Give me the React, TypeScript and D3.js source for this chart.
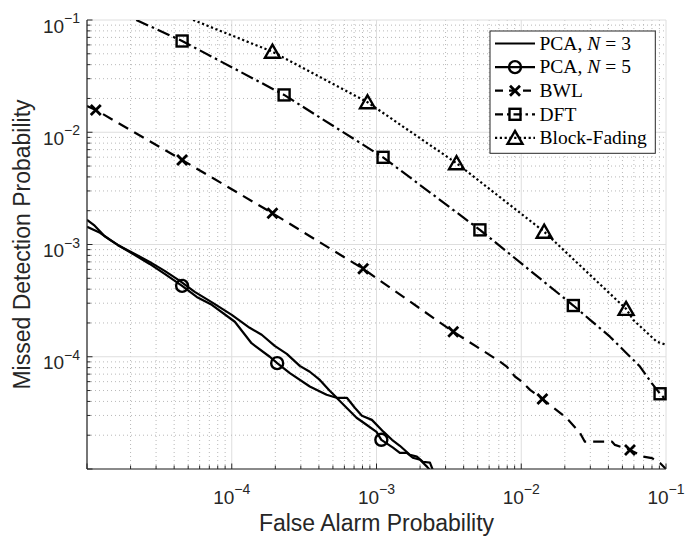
import * as d3 from "d3";

// tick labels (decades shown)
const xTickValues = [1e-4, 1e-3, 1e-2, 1e-1];
const yTickValues = [1e-4, 1e-3, 1e-2, 1e-1];

// [false alarm, missed detection]
const pcaN3: [number, number][] = [
  [1.0e-5, 1.44e-3], [1.23e-5, 1.27e-3], [1.44e-5, 1.10e-3], [1.63e-5, 9.91e-4],
  [2.14e-5, 8.24e-4], [2.71e-5, 7.0e-4], [3.44e-5, 5.82e-4], [4.38e-5, 4.74e-4],
  [5.55e-5, 3.78e-4], [7.4e-5, 3.02e-4], [1.0e-4, 2.36e-4], [1.33e-4, 1.81e-4],
  [1.61e-4, 1.57e-4], [1.98e-4, 1.25e-4], [2.4e-4, 1.06e-4], [2.95e-4, 8.3e-5],
  [3.46e-4, 7.35e-5], [4.06e-4, 6.22e-5], [4.75e-4, 4.97e-5], [5.32e-4, 4.31e-5],
  [6.24e-4, 4.31e-5], [7.08e-4, 3.51e-5], [7.93e-4, 2.98e-5], [9.29e-4, 2.74e-5],
  [1.12e-3, 2.14e-5], [1.28e-3, 1.82e-5], [1.45e-3, 1.61e-5], [1.7e-3, 1.34e-5],
  [1.9e-3, 1.29e-5], [2.09e-3, 1.16e-5], [2.34e-3, 1.14e-5], [2.45e-3, 9.8e-6],
];

const pcaN5: [number, number][] = [
  [1.0e-5, 1.66e-3], [1.13e-5, 1.47e-3], [1.32e-5, 1.19e-3], [1.63e-5, 9.91e-4],
  [2.14e-5, 8.07e-4], [2.71e-5, 6.71e-4], [3.44e-5, 5.47e-4], [4.54e-5, 4.28e-4],
  [5.73e-5, 3.41e-4], [7.28e-5, 2.9e-4], [1.05e-4, 2.05e-4], [1.37e-4, 1.32e-4],
  [1.83e-4, 1.0e-4], [2.06e-4, 8.77e-5], [2.52e-4, 7.14e-5], [3.46e-4, 5.43e-5],
  [4.52e-4, 4.58e-5], [5.3e-4, 4.31e-5], [6.21e-4, 3.51e-5], [7.28e-4, 2.86e-5],
  [8.53e-4, 2.48e-5], [1.0e-3, 2.14e-5], [1.08e-3, 1.82e-5], [1.3e-3, 1.55e-5],
  [1.45e-3, 1.39e-5], [1.62e-3, 1.39e-5], [1.78e-3, 1.26e-5], [2.0e-3, 1.21e-5],
  [2.23e-3, 1.05e-5], [2.34e-3, 9.8e-6],
];
const pcaN5Marks: [number, number][] = [
  [4.54e-5, 4.28e-4], [2.06e-4, 8.77e-5], [1.08e-3, 1.82e-5],
];

const bwl: [number, number][] = [
  [1.0e-5, 0.0171], [1.15e-5, 0.0158], [4.54e-5, 5.66e-3], [1.91e-4, 1.9e-3],
  [8.09e-4, 6.07e-4], [3.39e-3, 1.67e-4], [7.13e-3, 9.06e-5], [7.93e-3, 8.18e-5],
  [9.04e-3, 6.67e-5], [0.0101, 6.01e-5], [0.0115, 5.07e-5], [0.014, 4.21e-5],
  [0.0206, 2.84e-5], [0.0255, 2.09e-5], [0.0275, 1.75e-5], [0.0424, 1.75e-5],
  [0.0444, 1.64e-5], [0.0564, 1.48e-5], [0.0697, 1.29e-5], [0.08, 1.25e-5],
  [0.0909, 1.13e-5], [0.1, 1.0e-5],
];
const bwlMarks: [number, number][] = [
  [1.15e-5, 0.0158], [4.54e-5, 5.66e-3], [1.91e-4, 1.9e-3], [8.09e-4, 6.07e-4],
  [3.39e-3, 1.67e-4], [0.014, 4.21e-5], [0.0564, 1.48e-5],
];

const dft: [number, number][] = [
  [2.19e-5, 0.1], [4.54e-5, 0.065], [2.3e-4, 0.0215], [1.11e-3, 5.98e-3],
  [5.18e-3, 1.35e-3], [0.0229, 2.86e-4], [0.0299, 2.13e-4], [0.041, 1.51e-4],
  [0.0521, 1.11e-4], [0.0661, 8.18e-5], [0.0796, 5.82e-5], [0.091, 4.68e-5],
  [0.1, 4.13e-5],
];
const dftMarks: [number, number][] = [
  [4.54e-5, 0.065], [2.3e-4, 0.0215], [1.11e-3, 5.98e-3], [5.18e-3, 1.35e-3],
  [0.0229, 2.86e-4], [0.091, 4.68e-5],
];

const blockFading: [number, number][] = [
  [5.41e-5, 0.1], [1.91e-4, 0.0522], [8.67e-4, 0.0185], [3.57e-3, 5.3e-3],
  [0.0144, 1.3e-3], [0.053, 2.67e-4], [0.0594, 2.13e-4], [0.0863, 1.36e-4],
  [0.1, 1.28e-4],
];
const blockFadingMarks: [number, number][] = [
  [1.91e-4, 0.0522], [8.67e-4, 0.0185], [3.57e-3, 5.3e-3], [0.0144, 1.3e-3],
  [0.053, 2.67e-4],
];

const W = 697;
const H = 536;
const left = 87, right = 666, top = 20, bottom = 469;
const axisColor = "#262626";
const sans = "'Liberation Sans', Arial, Helvetica, sans-serif";
const serif = "'Liberation Serif', 'Times New Roman', serif";

type Kind = "none" | "o" | "x" | "s" | "^";

function Marker({ kind, cx, cy }: { kind: Kind; cx: number; cy: number }) {
  const st = { fill: "none", stroke: "#000", strokeWidth: 2.4 };
  if (kind === "o") return <circle cx={cx} cy={cy} r={6} {...st} />;
  if (kind === "s") return <rect x={cx - 5.5} y={cy - 5.5} width={11} height={11} {...st} />;
  if (kind === "x")
    return <path d={`M${cx - 5},${cy - 5}L${cx + 5},${cy + 5}M${cx - 5},${cy + 5}L${cx + 5},${cy - 5}`} {...st} strokeWidth={2.8} />;
  if (kind === "^")
    return <path d={`M${cx},${cy - 7}L${cx + 7.5},${cy + 6}L${cx - 7.5},${cy + 6}Z`} {...st} />;
  return null;
}

export default function App() {
  const x = d3.scaleLog().domain([1e-5, 1e-1]).range([left, right]);
  const y = d3.scaleLog().domain([1e-5, 1e-1]).range([bottom, top]);
  const line = d3.line<[number, number]>().x((d) => x(d[0])).y((d) => y(d[1]));
  const isMajor = (v: number) => Math.abs(Math.log10(v) - Math.round(Math.log10(v))) < 1e-6;
  const xGrid = x.ticks();
  const yGrid = y.ticks();

  const series = [
    { name: "n3", data: pcaN3, marks: [] as [number, number][], dash: "none", kind: "none" as Kind },
    { name: "n5", data: pcaN5, marks: pcaN5Marks, dash: "none", kind: "o" as Kind },
    { name: "bwl", data: bwl, marks: bwlMarks, dash: "11,7", kind: "x" as Kind },
    { name: "dft", data: dft, marks: dftMarks, dash: "13,4,2.5,4", kind: "s" as Kind },
    { name: "bf", data: blockFading, marks: blockFadingMarks, dash: "2.2,2.6", kind: "^" as Kind },
  ];

  const legendRows = [
    { pre: "PCA, ", it: "N", post: "= 3", dash: "none", kind: "none" as Kind },
    { pre: "PCA, ", it: "N", post: "= 5", dash: "none", kind: "o" as Kind },
    { pre: "BWL", it: "", post: "", dash: "8,6", kind: "x" as Kind },
    { pre: "DFT", it: "", post: "", dash: "8,4,2.5,4", kind: "s" as Kind },
    { pre: "Block-Fading", it: "", post: "", dash: "2.2,2.6", kind: "^" as Kind },
  ];

  return (
    <svg width={W} height={H} style={{ position: "absolute", left: 0, top: 0, background: "#fff" }}>
      <defs>
        <clipPath id="plotclip">
          <rect x={left} y={top} width={right - left} height={bottom - top} />
        </clipPath>
      </defs>
      <rect x={0} y={0} width={W} height={H} fill="#fff" />

      {/* grid */}
      {xGrid.map((v, i) =>
        isMajor(v) ? (
          <line key={"gx" + i} x1={x(v)} x2={x(v)} y1={top} y2={bottom} stroke="#dedede" strokeWidth={1} />
        ) : (
          <line key={"gx" + i} x1={x(v)} x2={x(v)} y1={top} y2={bottom} stroke="#b8b8b8" strokeWidth={1} strokeDasharray="1,3" />
        )
      )}
      {yGrid.map((v, i) =>
        isMajor(v) ? (
          <line key={"gy" + i} x1={left} x2={right} y1={y(v)} y2={y(v)} stroke="#dedede" strokeWidth={1} />
        ) : (
          <line key={"gy" + i} x1={left} x2={right} y1={y(v)} y2={y(v)} stroke="#b8b8b8" strokeWidth={1} strokeDasharray="1,3" />
        )
      )}

      {/* series */}
      <g clipPath="url(#plotclip)">
        {series.map((s) => (
          <path key={s.name} d={line(s.data) || ""} fill="none" stroke="#000" strokeWidth={2.2}
            strokeLinejoin="round"
            strokeDasharray={s.dash === "none" ? undefined : s.dash} />
        ))}
      </g>
      {series.map((s) =>
        s.marks.map((p, i) => <Marker key={s.name + i} kind={s.kind} cx={x(p[0])} cy={y(p[1])} />)
      )}

      {/* axes */}
      <line x1={left} x2={left} y1={top} y2={bottom} stroke={axisColor} strokeWidth={1.2} />
      <line x1={left} x2={right} y1={bottom} y2={bottom} stroke={axisColor} strokeWidth={1.2} />
      {xGrid.map((v, i) => (
        <line key={"tx" + i} x1={x(v)} x2={x(v)} y1={bottom} y2={bottom - (isMajor(v) ? 5.5 : 3.5)} stroke={axisColor} strokeWidth={1} />
      ))}
      {yGrid.map((v, i) => (
        <line key={"ty" + i} x1={left} x2={left + (isMajor(v) ? 5.5 : 3.5)} y1={y(v)} y2={y(v)} stroke={axisColor} strokeWidth={1} />
      ))}

      {xTickValues.map((v) => (
        <text key={"xl" + v} x={x(v)} y={503.5} textAnchor="middle" fontFamily={sans} fontSize={19} fill={axisColor}>
          10<tspan dy={-10} fontSize={14}>{"\u2212" + Math.abs(Math.round(Math.log10(v)))}</tspan>
        </text>
      ))}
      {yTickValues.map((v) => (
        <text key={"yl" + v} x={80} y={y(v) + 12.5} textAnchor="end" fontFamily={sans} fontSize={19} fill={axisColor}>
          10<tspan dy={-9.5} fontSize={14}>{"\u2212" + Math.abs(Math.round(Math.log10(v)))}</tspan>
        </text>
      ))}

      <text x={(left + right) / 2} y={531} textAnchor="middle" fontFamily={sans} fontSize={23} fill={axisColor}>
        False Alarm Probability
      </text>
      <text transform={`translate(30,${(top + bottom) / 2}) rotate(-90)`} textAnchor="middle" fontFamily={sans} fontSize={23} fill={axisColor}>
        Missed Detection Probability
      </text>

      {/* legend */}
      <rect x={490} y={31} width={165.3} height={122.3} fill="#fff" stroke={axisColor} strokeWidth={1} />
      {legendRows.map((r, i) => {
        const cy = 43.5 + i * 23.6;
        return (
          <g key={"lg" + i}>
            <line x1={495} x2={535} y1={cy} y2={cy} stroke="#000" strokeWidth={2.2}
              strokeDasharray={r.dash === "none" ? undefined : r.dash} />
            <Marker kind={r.kind} cx={515} cy={cy} />
            <text x={539.5} y={cy + 6.3} fontFamily={serif} fontSize={19.5} fill="#000">
              {r.pre}
              {r.it && <tspan fontStyle="italic">{r.it}</tspan>}
              {r.post && <tspan dx={5}>{r.post.slice(0, 1)}</tspan>}
              {r.post && <tspan dx={5}>{r.post.slice(2)}</tspan>}
            </text>
          </g>
        );
      })}
    </svg>
  );
}
